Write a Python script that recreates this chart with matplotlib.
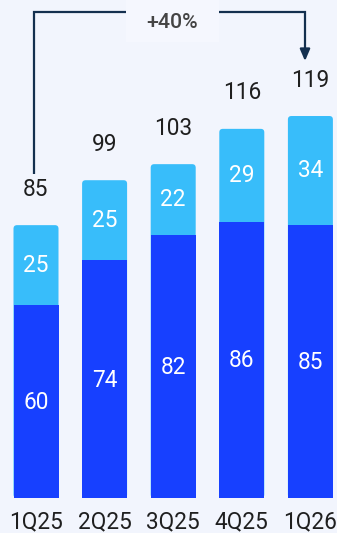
import matplotlib
matplotlib.use("Agg")
import matplotlib.pyplot as plt
from matplotlib.patches import FancyBboxPatch

categories = ["1Q25", "2Q25", "3Q25", "4Q25", "1Q26"]
dark_vals = [60, 74, 82, 86, 85]
light_vals = [25, 25, 22, 29, 34]
totals = [85, 99, 103, 116, 119]
growth_label = "+40%"

BG = "#F2F5FD"
DARK = "#1740FF"
LIGHT = "#38BDFA"
LINE = "#14304F"

plt.rcParams['font.family'] = ['Roboto', 'DejaVu Sans']

W, H = 337, 533
fig = plt.figure(figsize=(W / 100, H / 100), dpi=100, facecolor=BG)
ax = fig.add_axes([0, 0, 1, 1])
ax.set_facecolor(BG)

px_x = 68.6          # pixels per category
px_y = 3.21          # pixels per unit
x0_px = 36.0
base_px = 498.0
ax.set_xlim(-x0_px / px_x, (W - x0_px) / px_x)
ax.set_ylim(-(H - base_px) / px_y, base_px / px_y)
ax.axis("off")

bw = 45 / px_x
r = 3.5 / px_x
aspect = (1 / px_y) / (1 / px_x)
FS = 16.3

for i, (d, l, t) in enumerate(zip(dark_vals, light_vals, totals)):
    top = d + l
    p = FancyBboxPatch((i - bw / 2, 0), bw, top,
                       boxstyle=f"round,pad=0,rounding_size={r}",
                       mutation_aspect=aspect, facecolor=LIGHT,
                       edgecolor="none", zorder=2)
    ax.add_patch(p)
ax.bar(range(len(categories)), dark_vals, width=bw, color=DARK, zorder=3)

for i, (d, l, t) in enumerate(zip(dark_vals, light_vals, totals)):
    ax.text(i, d / 2 - 1 / px_y, str(d), color="white", ha="center", va="center",
            fontsize=FS, zorder=4)
    ax.text(i, d + l / 2, str(l), color="white", ha="center", va="center",
            fontsize=FS, zorder=4)
    ax.text(i, d + l + 36 / px_y, str(t), color="#1f1f1f", ha="center",
            va="center", fontsize=FS, zorder=4)
    ax.text(i, -24 / px_y, categories[i], color="#1f1f1f", ha="center",
            va="center", fontsize=FS, zorder=4)

# growth bracket
def X(px):
    return (px - x0_px) / px_x

def Y(py):
    return (base_px - py) / px_y

ytop = Y(12)
ax.plot([X(34), X(34), X(126)], [Y(174), ytop, ytop], color=LINE, lw=1.6,
        solid_capstyle="butt", solid_joinstyle="miter", zorder=5)
ax.plot([X(219), X(305), X(305)], [ytop, ytop, Y(52)], color=LINE, lw=1.6,
        solid_capstyle="butt", solid_joinstyle="miter", zorder=5)
ax.annotate("", xy=(X(305), Y(61)), xytext=(X(305), Y(50)),
            arrowprops=dict(arrowstyle="-|>,head_length=0.7,head_width=0.3",
                            color=LINE, lw=1.6, shrinkA=0, shrinkB=0),
            zorder=5)
ax.add_patch(plt.Rectangle((X(126), Y(42)), X(219) - X(126), Y(0) - Y(42),
                           facecolor="#F5F7FE", edgecolor="none", zorder=1))
ax.text(X(172), Y(22), growth_label, color="#444444", ha="center",
        va="center", fontsize=15.3, fontweight="medium", zorder=5)

fig.savefig("out.png", dpi=100, facecolor=BG)
